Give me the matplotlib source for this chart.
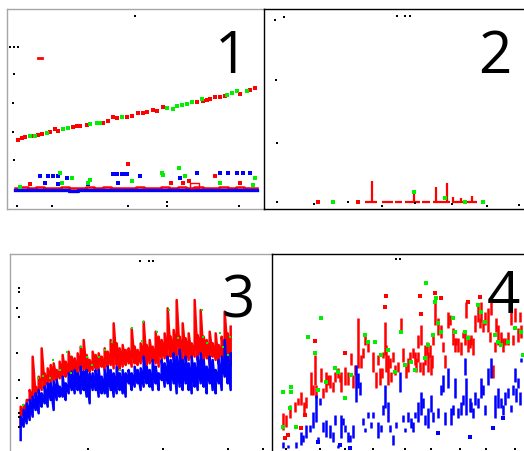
import numpy as np
import matplotlib
matplotlib.use("Agg")
import matplotlib.pyplot as plt

# ---- panel 1 : two noisy trends + flat band ----
p1_red_x = [34, 44, 54, 94, 104, 129, 144, 154, 209, 219, 239, 304, 319, 329, 359, 374, 394, 419, 439, 449,
            469, 569, 599, 609, 624, 639, 699, 729, 744, 74, 199, 289, 409, 589, 654]
p1_red_y = [207, 212, 215, 222, 225, 231, 239, 235, 249, 249, 253, 263, 277, 272, 277, 279, 287, 291, 297, 293,
            307, 322, 327, 331, 337, 337, 345, 357, 362, 218, 245, 259, 289, 325, 339]
p1_green_x = [69, 84, 119, 169, 184, 249, 269, 279, 344, 479, 499, 509, 524, 539, 554, 584, 659, 674, 689, 719]
p1_green_y = [219, 219, 229, 239, 243, 255, 259, 259, 277, 302, 301, 309, 312, 315, 321, 329, 341, 347, 355, 355]
p1_outlier = (99, 452)
p1_blue_band = [57, 56, 57, 58, 56, 57, 57, 55, 57, 58, 57, 56, 57, 57, 58, 56, 57, 57, 56, 58,
                57, 57, 56, 57, 58, 57, 56, 57, 57, 58]
p1_red_band = [64, 66, 63, 65, 64, 62, 66, 64, 63, 65, 64, 66, 63, 64, 62, 65, 64, 63, 65, 64,
               66, 63, 65, 64, 63, 65, 64, 66, 63, 64]
p1_box = (549, 577, 62, 77)
p1_blue_pts_x = [99, 124, 139, 154, 179, 319, 329, 344, 354, 399, 334, 519, 569, 639, 664, 689, 709, 729, 114, 154, 359, 244]
p1_blue_pts_y = [99, 99, 99, 99, 92, 105, 105, 105, 105, 99, 79, 92, 109, 109, 109, 109, 109, 109, 77, 75, 105, 74]
p1_green_pts_x = [159, 164, 244, 249, 374, 464, 516, 534, 639, 744, 194, 469, 739, 39]
p1_green_pts_y = [109, 79, 79, 87, 85, 107, 122, 99, 79, 92, 92, 102, 72, 67]
p1_red_pts_x = [364, 491, 527, 547, 624, 699, 69]
p1_red_pts_y = [134, 79, 79, 84, 99, 79, 74]
p1_marks_x = [384, 9, 21, 34, 21, 19, 19, 21, 29, 136, 364, 479, 479, 697]
p1_marks_y = [580, 487, 487, 487, 405, 317, 230, 146, 9, 9, 9, 22, 9, 9]

# ---- panel 2 : sparse spikes on a baseline ----
p2_base_level = 20
p2_base_start = [278, 303, 353, 393, 423, 473, 508, 563]
p2_base_end = [288, 338, 388, 413, 468, 498, 558, 638]
p2_spike_x = [325, 450, 516, 550, 568, 591, 623]
p2_spike_top = [84, 51, 67, 77, 35, 32, 39]
p2_red_pts_x = [163, 283]
p2_red_pts_y = [20, 20]
p2_green_x = [206, 603, 656, 450, 543]
p2_green_y = [20, 20, 20, 51, 32]
p2_marks_x = [34, 59, 399, 424, 439, 36, 39, 39, 149, 252, 354, 454, 564, 669, 766]
p2_marks_y = [567, 575, 580, 580, 580, 387, 199, 22, 15, 22, 10, 17, 15, 9, 12]

# ---- panel 3 : two noisy rising series ----
p3_red_hi = [133, 138, 153, 183, 283, 193, 223, 308, 233, 248, 258, 263, 243, 268, 288, 268, 298, 283, 278, 293,
             313, 333, 288, 273, 298, 288, 293, 283, 308, 298, 333, 383, 323, 308, 318, 303, 308, 368, 313, 303,
             323, 388, 318, 333, 313, 358, 343, 333, 353, 428, 343, 363, 453, 343, 383, 338, 353, 323, 453, 348,
             423, 343, 333, 358, 323, 353, 318, 343, 418, 353, 373]
p3_red_lo = [73, 103, 113, 153, 143, 163, 173, 183, 193, 198, 203, 208, 213, 218, 218, 223, 228, 223, 233, 228,
             238, 243, 233, 238, 243, 248, 238, 253, 243, 253, 258, 248, 258, 243, 253, 258, 263, 253, 263, 258,
             263, 268, 258, 263, 268, 263, 253, 273, 278, 268, 283, 273, 278, 288, 268, 283, 273, 278, 283, 273,
             288, 268, 278, 258, 283, 273, 263, 283, 268, 293, 258]
p3_blue_hi = [103, 123, 143, 153, 163, 173, 183, 173, 193, 203, 203, 208, 213, 193, 223, 203, 233, 238, 243, 233,
              253, 238, 243, 233, 233, 243, 243, 223, 243, 253, 243, 233, 253, 233, 243, 233, 243, 233, 253, 243,
              248, 283, 253, 243, 273, 253, 233, 273, 263, 283, 273, 293, 283, 303, 273, 283, 263, 283, 263, 283,
              293, 273, 253, 283, 273, 243, 273, 283, 333, 283, 293]
p3_blue_lo = [33, 73, 83, 93, 103, 123, 113, 133, 143, 133, 153, 123, 153, 163, 163, 153, 173, 183, 173, 183,
              173, 183, 163, 143, 183, 183, 163, 173, 173, 163, 183, 163, 173, 183, 173, 163, 203, 183, 193, 203,
              183, 193, 203, 193, 183, 203, 183, 213, 193, 203, 183, 203, 173, 193, 183, 203, 183, 173, 193, 183,
              203, 193, 173, 203, 183, 173, 203, 183, 223, 203, 183]
p3_green_x = [40, 85, 120, 128, 150, 172, 182, 212, 230, 245, 268, 285, 305, 330, 400, 440, 478, 505, 575, 580,
              590, 630, 640, 660, 655, 100, 395, 365]
p3_green_y = [138, 218, 218, 273, 243, 298, 233, 313, 283, 258, 283, 303, 328, 243, 386, 358, 423, 338, 423, 343,
              323, 353, 313, 343, 288, 225, 330, 370]
p3_marks_x = [390, 417, 428, 27, 27, 22, 27, 22, 27, 22, 27, 27, 27, 234, 459, 654, 759]
p3_marks_y = [571, 571, 571, 490, 478, 430, 403, 294, 213, 158, 114, 103, 73, 6, 6, 6, 6]

# ---- panel 4 : scattered ranges ----
p4_red_x = [11, 14, 18, 23, 26, 29, 32, 34, 39, 43, 44, 49, 54, 58, 63, 66, 69, 73, 76, 79,
            81, 86, 89, 93, 96, 101, 104, 108, 111, 113, 114, 116, 119, 123, 126, 129, 131, 134, 138, 143,
            144, 148, 149, 153, 156, 158, 159, 161, 163, 166, 169, 173, 176, 178, 181, 183, 186, 189, 193, 194,
            196, 199, 201, 203, 206, 208, 209, 213, 216, 219, 221, 223, 226, 229, 233, 236, 239, 243, 246, 249,
            106, 110, 118, 121, 136, 141, 146, 151, 155, 160, 146, 171, 184, 191, 198, 211, 218, 224, 231, 241,
            248, 41, 51, 56, 61, 68, 83, 91]
p4_red_lo = [21, 24, 33, 39, 46, 46, 36, 43, 56, 66, 53, 69, 59, 63, 69, 73, 59, 66, 66, 86,
             63, 83, 83, 106, 99, 79, 63, 66, 93, 96, 79, 66, 69, 76, 79, 119, 89, 73, 89, 86,
             79, 79, 106, 86, 79, 93, 76, 106, 126, 116, 113, 83, 123, 126, 106, 99, 99, 96, 106, 133,
             99, 106, 96, 119, 129, 123, 129, 126, 119, 136, 73, 99, 106, 106, 106, 106, 126, 129, 109, 113,
             86, 73, 83, 89, 79, 93, 89, 76, 96, 83, 103, 99, 106, 113, 103, 119, 109, 119, 99, 106,
             129, 56, 53, 66, 59, 69, 76, 93]
p4_red_hi = [38, 36, 46, 49, 53, 59, 49, 54, 79, 96, 66, 83, 79, 76, 79, 83, 79, 84, 79, 98,
             76, 133, 96, 116, 109, 99, 79, 83, 99, 129, 106, 96, 79, 86, 89, 133, 103, 86, 99, 99,
             93, 89, 126, 106, 99, 106, 93, 116, 153, 133, 126, 96, 139, 136, 123, 113, 113, 109, 119, 149,
             116, 116, 113, 136, 146, 133, 149, 139, 143, 149, 86, 109, 126, 119, 113, 119, 146, 143, 123, 126,
             96, 83, 93, 99, 93, 103, 99, 89, 109, 96, 116, 109, 113, 119, 113, 129, 119, 133, 113, 116,
             139, 66, 63, 76, 69, 76, 86, 103]
p4_blue_x = [11, 16, 24, 29, 34, 41, 44, 48, 46, 54, 58, 63, 66, 69, 73, 76, 78, 81, 84, 86,
             88, 93, 96, 101, 106, 109, 113, 116, 121, 124, 128, 133, 136, 139, 143, 146, 149, 153, 156, 159,
             169, 171, 173, 176, 179, 183, 186, 189, 193, 194, 198, 199, 203, 206, 209, 216, 219, 223, 226, 229,
             233, 236, 239, 243, 244, 248, 249, 31, 38, 51, 61, 71, 91, 99, 111, 118, 131, 141, 151, 161,
             166, 181, 191, 201, 211, 213, 231, 241, 246]
p4_blue_lo = [3, 3, 3, 6, 13, 23, 29, 46, 11, 14, 13, 26, 3, 13, 19, 9, 9, 13, 49, 63,
              56, 19, 33, 33, 13, 19, 43, 29, 6, 23, 59, 19, 29, 23, 33, 29, 36, 26, 23, 39,
              56, 59, 26, 63, 26, 53, 33, 36, 76, 36, 39, 39, 46, 43, 53, 66, 73, 33, 43, 43,
              46, 53, 39, 69, 49, 46, 89, 9, 19, 19, 9, 26, 26, 23, 36, 19, 29, 19, 43, 29,
              33, 36, 46, 33, 56, 36, 36, 56, 63]
p4_blue_hi = [9, 6, 9, 19, 26, 39, 56, 53, 14, 31, 26, 36, 6, 36, 26, 19, 16, 26, 86, 78,
              69, 23, 39, 39, 29, 26, 66, 49, 16, 29, 79, 23, 39, 33, 39, 49, 59, 36, 43, 56,
              66, 76, 39, 83, 43, 73, 43, 49, 93, 73, 53, 49, 59, 53, 73, 83, 93, 56, 63, 53,
              59, 63, 46, 83, 63, 59, 93, 16, 26, 29, 19, 33, 33, 29, 46, 26, 36, 29, 53, 39,
              43, 46, 56, 43, 66, 46, 46, 66, 73]
p4_blue_pts_x = [231, 221, 198, 166, 46, 68, 78]
p4_blue_pts_y = [33, 23, 14, 18, 9, 6, 3]
p4_green_x = [11, 19, 19, 36, 49, 43, 46, 54, 63, 66, 73, 79, 93, 96, 103, 109, 116, 123, 129, 133,
              139, 143, 153, 154, 156, 161, 163, 164, 166, 169, 181, 183, 193, 196, 206, 209, 213, 223, 226, 229,
              236, 243, 249, 251, 11, 24, 18]
p4_green_y = [59, 64, 59, 114, 133, 98, 61, 69, 83, 79, 53, 76, 116, 109, 109, 96, 101, 79, 119, 86,
              89, 81, 93, 168, 106, 116, 149, 153, 128, 119, 133, 119, 119, 113, 146, 139, 129, 116, 109, 106,
              109, 123, 119, 96, 24, 24, 43]
p4_red_pts_x = [43, 73, 114, 113, 148, 149, 163, 169, 196, 208, 33, 29, 16, 13]
p4_red_pts_y = [110, 98, 155, 144, 155, 137, 158, 153, 149, 154, 36, 23, 16, 13]
p4_marks_x = [124, 128, 14, 48, 73, 101, 133, 159, 188, 214, 243]
p4_marks_y = [192, 192, 2, 2, 2, 2, 2, 2, 2, 2, 2]

RED, GREEN, BLUE = "#ff0000", "#00ee00", "#0000ff"
GREY = "#a6a6a6"
FONT = "Open Sans"


def dots(ax, x, y, c, ms=2.2):
    ax.plot(x, y, ls="none", marker="s", ms=ms, mew=0, color=c)


def frame(ax, color, sides):
    ax.set_xticks([])
    ax.set_yticks([])
    ax.patch.set_alpha(0)
    for name, sp in ax.spines.items():
        if name in sides:
            sp.set_color(color)
            sp.set_linewidth(1.0)
        else:
            sp.set_visible(False)


def label(ax, txt, x, y):
    ax.text(x, y, txt, transform=ax.transAxes, fontsize=42, family=FONT,
            ha="center", va="baseline", color="black")


fig = plt.figure(figsize=(5.24, 4.51), dpi=100)
W, H = 524, 451

# panel 1
ax1 = fig.add_axes([7 / W, 242 / H, 257 / W, 200 / H])
ax1.set_xlim(0, 771)
ax1.set_ylim(0, 600)
bx = np.linspace(24, 749, len(p1_blue_band))
ax1.plot(bx, p1_red_band, color=RED, lw=1.8, drawstyle="steps-mid")
ax1.plot(bx, p1_blue_band, color=BLUE, lw=2.4, drawstyle="steps-mid")
x0, x1, y0, y1 = p1_box
ax1.plot([x0, x0, x1, x1, x0], [y0, y1, y1, y0, y0], color=RED, lw=1.0)
dots(ax1, p1_blue_pts_x, p1_blue_pts_y, BLUE)
dots(ax1, p1_red_pts_x, p1_red_pts_y, RED)
dots(ax1, p1_green_pts_x, p1_green_pts_y, GREEN)
dots(ax1, p1_red_x, p1_red_y, RED)
dots(ax1, p1_green_x, p1_green_y, GREEN)
ax1.plot([p1_outlier[0] - 6, p1_outlier[0] + 6], [p1_outlier[1]] * 2, color=RED, lw=2.0)
dots(ax1, p1_marks_x, p1_marks_y, "black", ms=1.5)
frame(ax1, GREY, ["left", "top", "bottom"])
label(ax1, "1", 0.875, 0.68)

# panel 2
ax2 = fig.add_axes([264 / W, 242 / H, 260 / W, 200 / H])
ax2.set_xlim(0, 780)
ax2.set_ylim(0, 600)
ax2.hlines([p2_base_level] * len(p2_base_start), p2_base_start, p2_base_end, color=RED, lw=1.6)
ax2.vlines(p2_spike_x, p2_base_level, p2_spike_top, color=RED, lw=1.6)
dots(ax2, p2_red_pts_x, p2_red_pts_y, RED)
dots(ax2, p2_green_x, p2_green_y, GREEN)
dots(ax2, p2_marks_x, p2_marks_y, "black", ms=1.5)
frame(ax2, "black", ["left", "top", "bottom"])
label(ax2, "2", 0.888, 0.68)

# panel 3
ax3 = fig.add_axes([10 / W, 0, 262 / W, 197 / H])
ax3.set_xlim(0, 786)
ax3.set_ylim(0, 591)
x3 = np.arange(32, 663, 9)
zx = np.repeat(x3, 2)
ax3.plot(zx, np.column_stack([p3_red_lo, p3_red_hi]).ravel(), color=RED, lw=1.8)
ax3.plot(zx, np.column_stack([p3_blue_lo, p3_blue_hi]).ravel(), color=BLUE, lw=1.8)
dots(ax3, p3_green_x, p3_green_y, GREEN, ms=1.8)
dots(ax3, p3_marks_x, p3_marks_y, "black", ms=1.5)
frame(ax3, GREY, ["left", "top"])
label(ax3, "3", 0.87, 0.68)

# panel 4
ax4 = fig.add_axes([272 / W, 0, 252 / W, 197 / H])
ax4.set_xlim(0, 252)
ax4.set_ylim(0, 197)
ax4.vlines(p4_red_x, p4_red_lo, p4_red_hi, color=RED, lw=1.8)
ax4.vlines(p4_blue_x, p4_blue_lo, p4_blue_hi, color=BLUE, lw=1.8)
dots(ax4, p4_blue_pts_x, p4_blue_pts_y, BLUE)
dots(ax4, p4_red_pts_x, p4_red_pts_y, RED)
dots(ax4, p4_green_x, p4_green_y, GREEN)
dots(ax4, p4_marks_x, p4_marks_y, "black", ms=1.5)
frame(ax4, "black", ["left", "top"])
label(ax4, "4", 0.92, 0.70)

fig.savefig("out.png", dpi=100)
